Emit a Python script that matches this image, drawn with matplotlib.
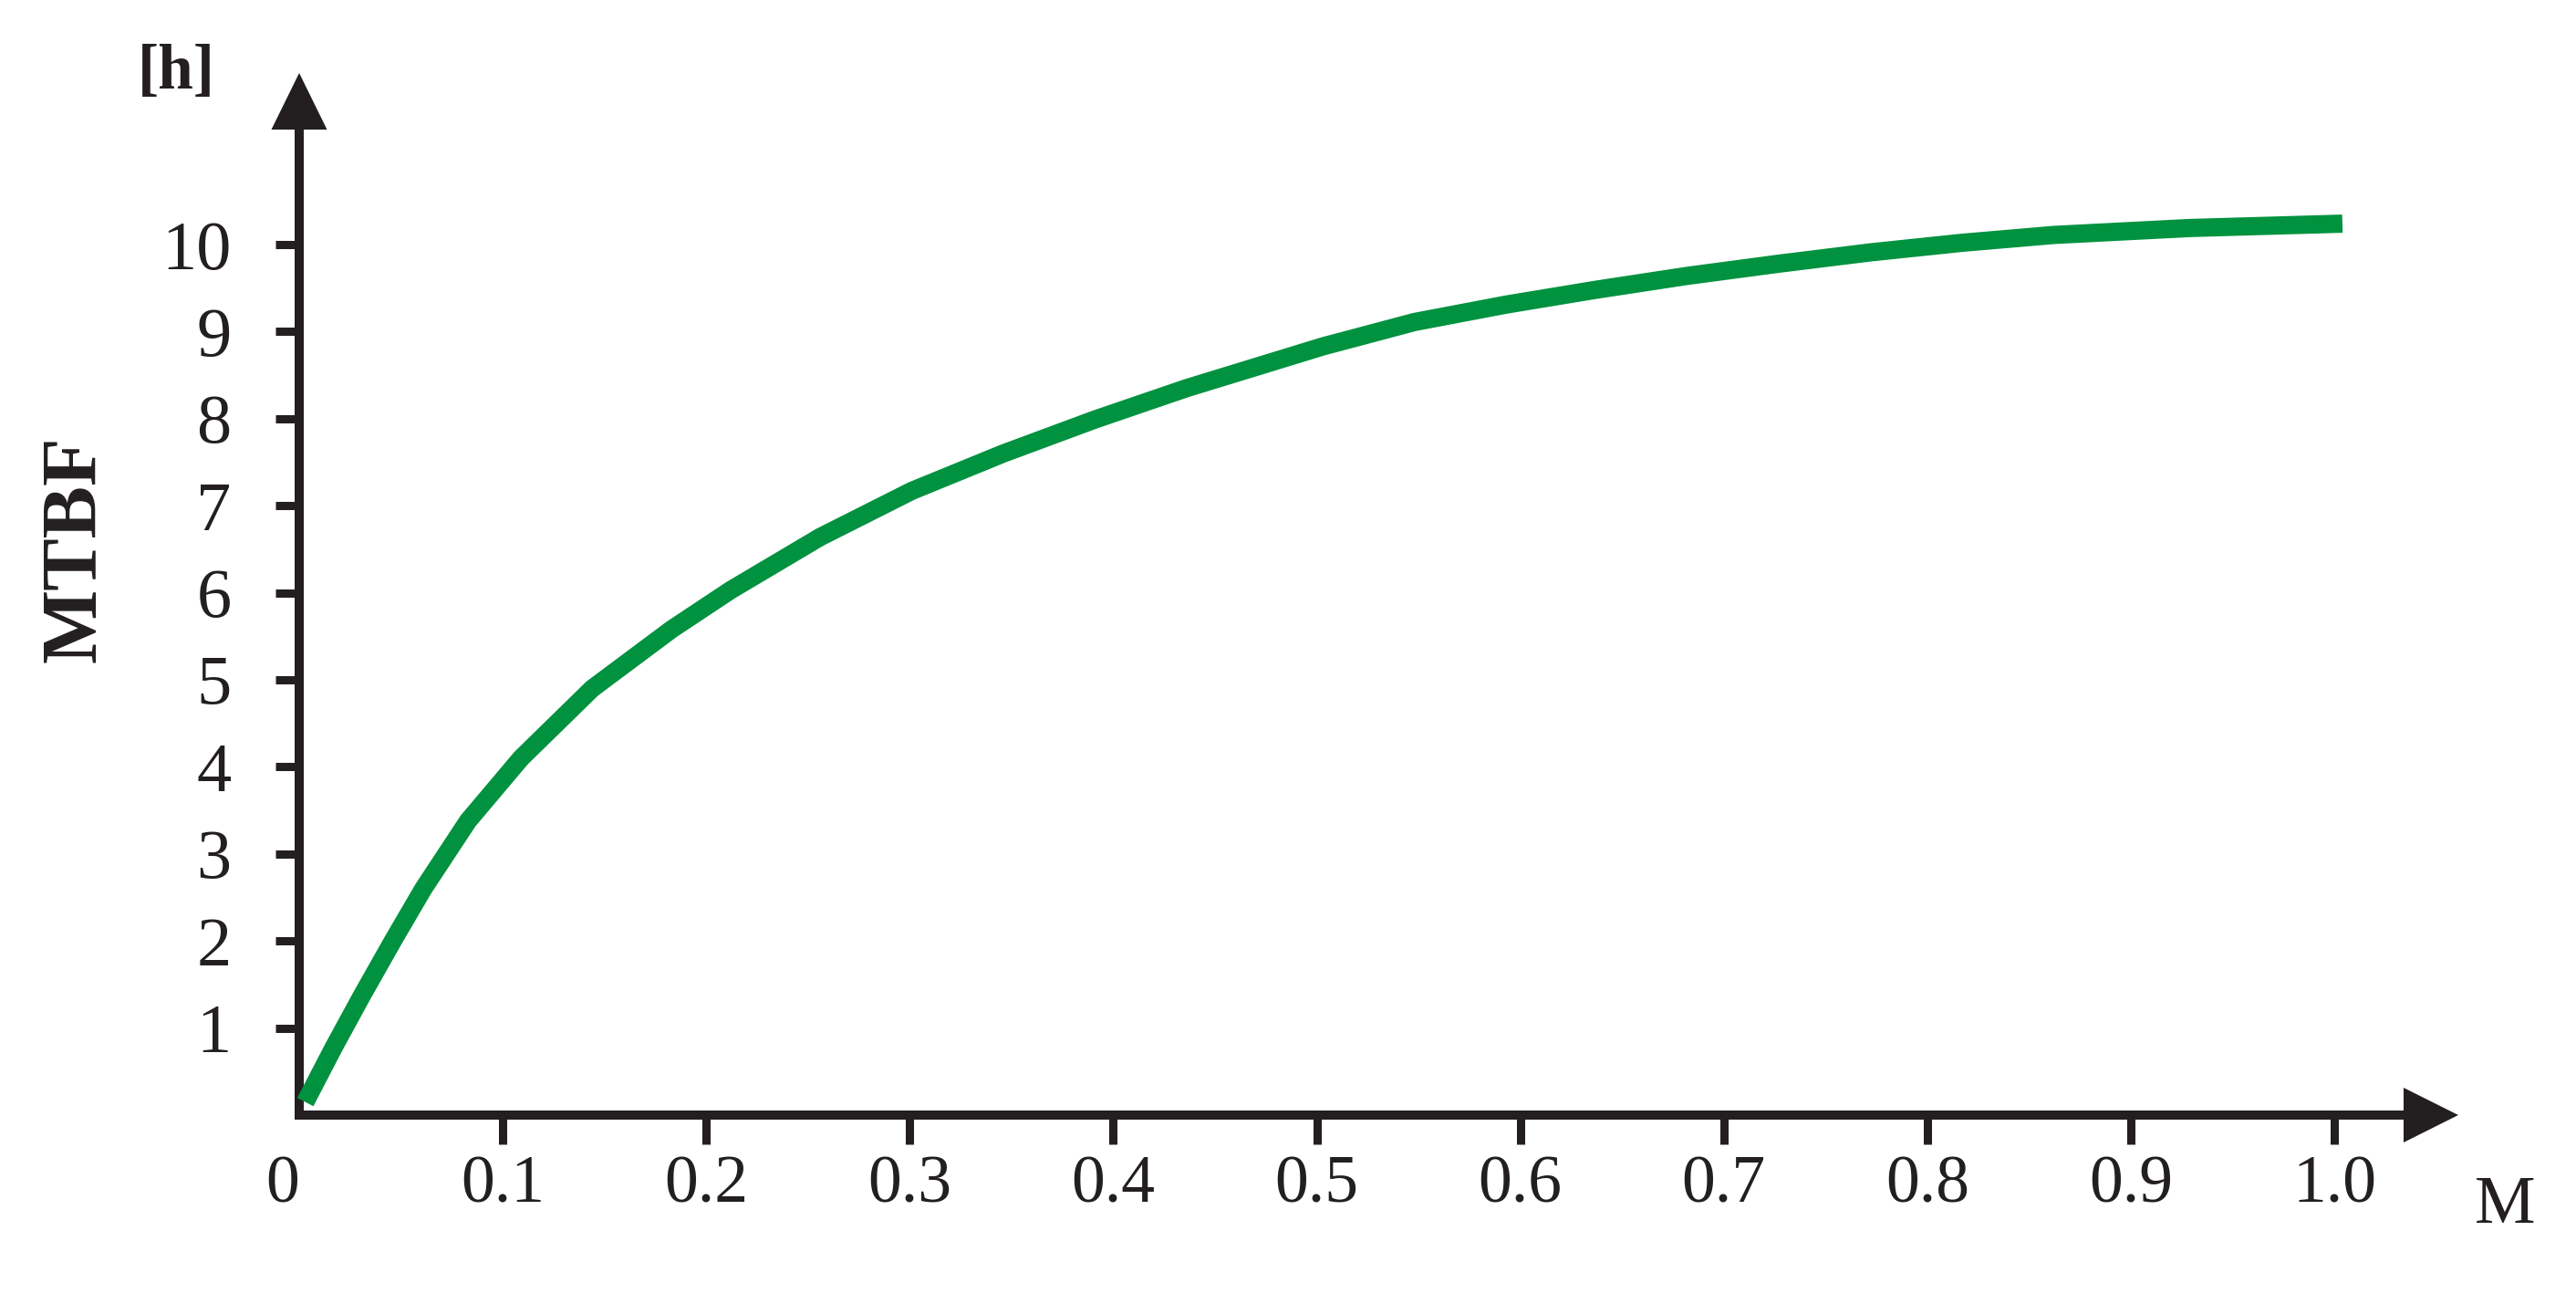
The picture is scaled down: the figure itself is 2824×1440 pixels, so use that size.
import matplotlib
matplotlib.use("Agg")
import matplotlib.pyplot as plt
from matplotlib.patches import Polygon
from matplotlib.transforms import ScaledTranslation

# ---- data ----
m_values = [0.003, 0.017, 0.031, 0.046, 0.061, 0.083, 0.109, 0.144, 0.183, 0.212,
            0.256, 0.301, 0.346, 0.391, 0.436, 0.503, 0.548, 0.593, 0.637, 0.682,
            0.727, 0.772, 0.817, 0.862, 0.929, 1.004]
mtbf_values = [0.15, 0.78, 1.38, 2.00, 2.60, 3.38, 4.10, 4.90, 5.58, 6.03,
               6.64, 7.17, 7.60, 7.99, 8.35, 8.83, 9.11, 9.31, 9.48, 9.64,
               9.78, 9.91, 10.02, 10.11, 10.19, 10.24]
x_ticks = [0, 0.1, 0.2, 0.3, 0.4, 0.5, 0.6, 0.7, 0.8, 0.9, 1.0]
x_tick_labels = ["0", "0.1", "0.2", "0.3", "0.4", "0.5", "0.6", "0.7", "0.8", "0.9", "1.0"]
y_ticks = [1, 2, 3, 4, 5, 6, 7, 8, 9, 10]
y_tick_labels = ["1", "2", "3", "4", "5", "6", "7", "8", "9", "10"]

GREEN = "#00923F"
DARK = "#231F20"
FONT = "Liberation Serif"

W, H = 2824, 1440
fig = plt.figure(figsize=(W / 100, H / 100), dpi=100)
fig.patch.set_facecolor("white")

# axes area in pixels
ax_left, ax_right = 328, 2695
ax_bottom, ax_top = 1222, 80
ax = fig.add_axes([ax_left / W, 1 - ax_bottom / H,
                   (ax_right - ax_left) / W, (ax_bottom - ax_top) / H])
ax.set_facecolor("none")

px_per_x = 2231.0
px_per_y = 95.4
ax.set_xlim(0, (ax_right - ax_left) / px_per_x)
ax.set_ylim(0, (ax_bottom - ax_top) / px_per_y)

ax.plot(m_values, mtbf_values, color=GREEN, lw=14.4, solid_capstyle="butt",
        solid_joinstyle="round", zorder=3, clip_on=False)

for s in ["top", "right"]:
    ax.spines[s].set_visible(False)
for s in ["left", "bottom"]:
    ax.spines[s].set_linewidth(7.2)
    ax.spines[s].set_color(DARK)
    ax.spines[s].set_capstyle("projecting")
ax.spines["left"].set_bounds(0, (ax_bottom - 142) / px_per_y)
ax.spines["bottom"].set_bounds(0, (2636 - ax_left) / px_per_x)

# arrow heads
aw = ax_right - ax_left
ah = ax_bottom - ax_top
ax.add_patch(Polygon([(0, 1), (-30.5 / aw, 1 - 62 / ah), (30.5 / aw, 1 - 62 / ah)],
                     closed=True, transform=ax.transAxes, color=DARK, clip_on=False, lw=0))
ax.add_patch(Polygon([(1, 0), (1 - 60 / aw, 30 / ah), (1 - 60 / aw, -30 / ah)],
                     closed=True, transform=ax.transAxes, color=DARK, clip_on=False, lw=0))

ax.set_xticks(x_ticks)
ax.set_xticklabels(x_tick_labels, fontfamily=FONT, fontsize=53, color=DARK)
ax.set_yticks(y_ticks)
ax.set_yticklabels(y_tick_labels, fontfamily=FONT, fontsize=55, color=DARK)
ax.tick_params(axis="x", direction="out", length=23, width=6.5, color=DARK, pad=9)
ax.tick_params(axis="y", direction="out", length=18.7, width=6.5, color=DARK, pad=35)

# no tick mark at the origin, and shift "0" label left
t0 = ax.xaxis.get_major_ticks()[0]
t0.tick1line.set_visible(False)
lbl0 = ax.get_xticklabels()[0]
lbl0.set_transform(lbl0.get_transform() + ScaledTranslation(-18 / 100, 0, fig.dpi_scale_trans))

fig.text(84 / W, 1 - 602 / H, "MTBF", rotation=90, fontfamily=FONT, fontweight="bold",
         fontsize=62, color=DARK, ha="center", va="center")
fig.text(193 / W, 1 - 80 / H, "[h]", fontfamily=FONT, fontweight="bold",
         fontsize=50, color=DARK, ha="center", va="center")
fig.text(2746 / W, 1 - 1322 / H, "M", fontfamily=FONT,
         fontsize=54, color=DARK, ha="center", va="center")

fig.savefig("out.png", dpi=100, facecolor="white")
